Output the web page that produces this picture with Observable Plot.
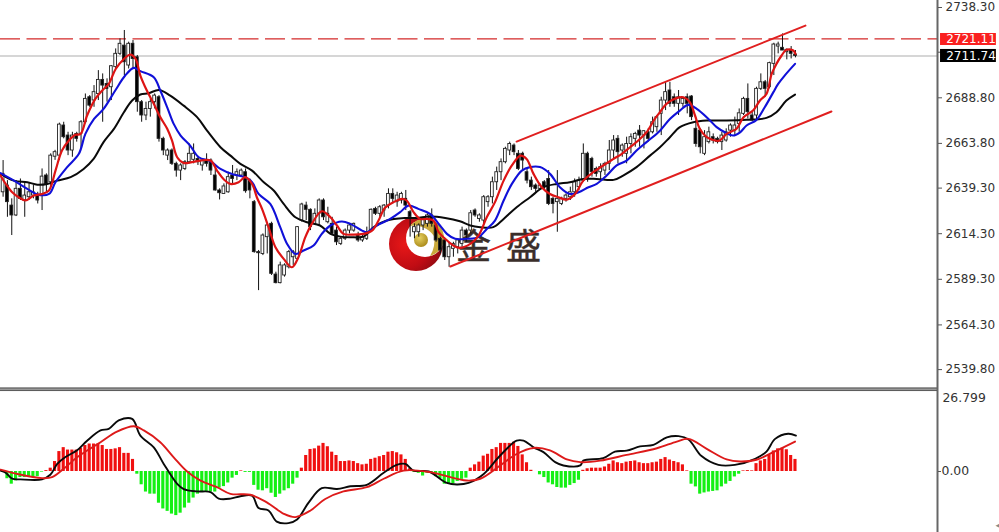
<!DOCTYPE html>
<html><head><meta charset="utf-8">
<script src="https://cdn.jsdelivr.net/npm/d3@7"></script>
<script src="https://cdn.jsdelivr.net/npm/@observablehq/plot@0.6"></script>
<style>
html,body{margin:0;padding:0;background:#fff;overflow:hidden}
#wrap{position:relative;width:999px;height:532px}
#wm{position:absolute;left:0;top:0;z-index:0}
#chart{position:absolute;left:0;top:0;z-index:1}
#chart svg{display:block}
</style></head><body>
<div id="wrap">
<svg id="wm" width="999" height="532">
<defs>
<radialGradient id="rg" cx="0.3" cy="0.5" r="0.8"><stop offset="0" stop-color="#e81818"/><stop offset="0.55" stop-color="#c00c14"/><stop offset="1" stop-color="#7c0a10"/></radialGradient>
<radialGradient id="gg" cx="0.4" cy="0.35" r="0.7"><stop offset="0" stop-color="#e6d060"/><stop offset="1" stop-color="#a88818"/></radialGradient>
</defs>
<circle cx="416" cy="244" r="27" fill="url(#rg)"/>
<circle cx="425" cy="238" r="19" fill="#fff"/>
<path d="M410 226 A19 19 0 1 1 430 256 A28 28 0 0 0 434 236 A24 24 0 0 0 410 226Z" fill="#c9a93a"/>
<circle cx="421" cy="240" r="7" fill="url(#gg)"/>
<text x="456" y="259" font-family="Noto Sans CJK SC" font-size="35" fill="#3a2e2a" stroke="#3a2e2a" stroke-width="0.5">金</text>
<text x="506" y="259" font-family="Noto Sans CJK SC" font-size="35" fill="#3a2e2a" stroke="#3a2e2a" stroke-width="0.5">盛</text>
</svg>
<div id="chart"></div>
</div>
<script>
const highs=[2654.4,2643.4,2633.4,2643.4,2644.3,2642.5,2641.6,2640.7,2637.0,2649.8,
2647.1,2658.1,2660.0,2674.9,2675.4,2669.9,2669.9,2669.9,2676.3,2690.9,2690.0,
2695.5,2703.7,2701.9,2699.2,2706.5,2715.6,2721.1,2725.7,2719.3,2720.2,
2712.0,2687.3,2686.4,2688.2,2690.9,2690.0,2667.2,2660.8,2660.8,2653.5,
2652.6,2654.4,2663.5,2663.5,2656.2,2655.3,2658.1,2655.3,2649.8,2638.9,
2641.6,2648.0,2651.7,2649.8,2649.8,2649.8,2644.3,2632.5,2605.1,2614.2,
2619.7,2620.6,2593.2,2598.7,2597.8,2605.1,2605.1,2618.2,2631.0,2631.6,
2627.9,2627.9,2633.4,2633.4,2628.8,2623.3,2617.9,2612.4,2616.9,
2619.7,2620.1,2615.1,2613.3,2617.9,2627.9,2628.8,2629.7,2630.3,2638.9,
2638.9,2637.0,2637.0,2638.0,2627.0,2619.7,2619.7,2623.3,2625.2,2627.9,
2619.7,2612.4,2611.5,2609.6,2609.6,2611.5,2617.9,2616.9,2627.0,2627.9,
2625.2,2635.2,2635.2,2645.3,2650.8,2655.3,2661.7,2664.5,2663.5,2659.9,
2659.0,2649.8,2645.3,2641.6,2641.6,2643.4,2648.9,2634.3,2648.9,2634.3,
2636.1,2639.8,2644.3,2645.3,2663.5,2659.0,2656.2,2650.8,2652.6,2653.5,
2665.4,2668.1,2668.1,2663.5,2667.2,2669.0,2669.9,2673.6,2670.8,2671.8,
2678.2,2679.1,2689.1,2697.3,2697.3,2690.9,2692.8,2689.1,2690.9,2690.0,
2676.3,2671.8,2670.8,2672.7,2669.0,2667.2,2669.9,2671.8,2674.5,2678.2,
2682.7,2689.1,2696.4,2680.9,2694.6,2701.9,2698.3,2708.3,2718.7,2719.3,
2723.8,2715.6,2716.9,2714.7];
const lows=[2634.3,2623.3,2613.3,2623.7,2632.5,2623.3,2632.5,2633.4,2630.6,2627.0,
2637.0,2639.8,2654.5,2654.4,2666.3,2657.1,2656.2,2664.5,2660.8,2674.5,2683.6,
2683.6,2687.3,2675.4,2686.4,2687.3,2704.6,2712.0,2701.0,2704.6,2704.6,
2680.9,2675.4,2676.3,2678.2,2682.7,2664.5,2657.1,2654.4,2651.7,2645.3,
2643.4,2648.9,2652.6,2652.6,2651.7,2648.6,2650.8,2646.2,2637.6,2632.8,
2635.8,2636.5,2641.6,2643.4,2645.3,2636.5,2633.4,2603.6,2583.1,2602.3,
2603.2,2591.4,2586.8,2586.8,2590.5,2595.0,2596.9,2599.6,2620.6,2621.5,
2616.0,2618.8,2618.8,2621.5,2619.7,2613.8,2607.8,2607.8,2610.6,
2614.2,2615.1,2609.6,2609.6,2610.6,2615.1,2624.3,2623.3,2623.3,2627.9,
2630.6,2628.8,2630.6,2627.0,2612.4,2611.5,2612.4,2616.0,2617.9,2617.9,
2609.6,2603.2,2599.6,2595.9,2601.4,2603.2,2606.9,2609.6,2614.2,2623.3,
2620.6,2619.7,2628.8,2630.6,2638.0,2643.4,2652.6,2657.1,2657.1,2648.9,
2648.9,2641.6,2638.0,2637.0,2638.0,2638.0,2629.7,2625.2,2615.1,2629.7,
2631.6,2632.5,2634.3,2638.0,2642.5,2642.5,2645.3,2645.3,2643.4,2646.2,
2648.9,2655.3,2652.6,2656.2,2652.6,2658.1,2661.7,2661.7,2660.8,2664.5,
2669.0,2669.9,2668.1,2681.8,2683.6,2683.6,2679.1,2683.6,2680.0,2676.3,
2661.7,2658.1,2657.1,2663.5,2663.5,2663.5,2659.9,2664.5,2667.2,2668.1,
2669.9,2679.1,2677.2,2676.0,2676.3,2692.8,2689.1,2693.7,2701.0,2712.9,
2714.7,2709.6,2710.1,2710.7];
const opens=[2637.0,2640.7,2629.7,2624.3,2638.9,2632.5,2634.3,2635.2,2635.2,2635.2,
2646.2,2642.5,2656.5,2657.1,2673.6,2668.1,2659.9,2669.0,2669.0,2675.4,2689.1,
2687.3,2690.9,2698.6,2696.4,2694.6,2705.6,2712.9,2717.4,2706.5,2718.4,
2711.0,2686.4,2679.1,2682.7,2686.4,2689.1,2666.3,2657.1,2659.9,2652.6,
2648.9,2649.8,2653.5,2654.8,2655.3,2651.7,2654.4,2654.4,2646.2,2638.0,
2636.1,2637.0,2646.2,2646.2,2646.2,2648.0,2643.4,2631.6,2604.2,2603.2,
2612.4,2619.7,2591.9,2587.2,2591.4,2595.9,2601.4,2600.5,2621.5,2629.7,
2627.4,2619.7,2625.2,2632.5,2620.6,2619.7,2616.0,2608.7,2611.5,
2616.0,2616.0,2613.3,2610.6,2611.5,2616.0,2627.9,2625.2,2627.0,2629.7,
2636.1,2631.6,2632.5,2633.4,2626.1,2615.1,2615.1,2618.8,2619.7,2624.3,
2618.8,2611.5,2610.6,2601.4,2606.0,2606.9,2608.7,2616.0,2616.0,2627.0,
2622.4,2621.5,2631.6,2634.3,2642.5,2648.0,2653.5,2659.9,2662.6,2658.1,
2658.1,2648.0,2643.4,2640.7,2638.9,2642.5,2644.3,2633.4,2631.6,2630.6,
2633.4,2634.3,2637.0,2639.8,2643.4,2658.1,2655.3,2649.8,2648.0,2648.9,
2652.6,2659.9,2666.3,2659.9,2658.1,2663.5,2666.3,2670.8,2668.1,2669.9,
2669.9,2672.7,2680.0,2687.3,2692.8,2689.1,2685.5,2685.5,2689.1,2689.5,
2671.8,2670.8,2658.1,2664.5,2667.2,2666.3,2664.5,2665.4,2670.8,2670.8,
2674.5,2680.0,2688.2,2679.1,2679.1,2693.7,2697.3,2694.6,2707.4,2716.9,
2716.2,2713.8,2714.7,2712.5];
const closes=[2647.1,2631.6,2624.3,2638.9,2633.4,2635.2,2637.0,2637.0,2632.5,2645.6,
2641.6,2657.1,2659.0,2674.1,2667.2,2659.9,2668.1,2666.3,2675.4,2688.2,2684.5,
2691.9,2698.6,2695.5,2693.7,2706.1,2712.9,2718.4,2708.3,2718.4,2710.1,
2686.4,2679.1,2682.7,2686.4,2690.0,2666.3,2659.9,2659.9,2652.6,2648.9,
2651.7,2653.5,2658.1,2658.1,2653.5,2654.4,2652.6,2648.9,2638.0,2636.5,
2640.2,2645.3,2644.3,2648.0,2648.9,2637.6,2638.0,2604.2,2603.6,2613.3,
2618.8,2592.3,2587.2,2596.9,2596.9,2604.2,2604.2,2617.9,2630.3,2627.4,
2617.9,2625.2,2632.5,2623.3,2625.2,2614.2,2609.6,2611.5,2616.0,
2618.8,2619.7,2610.6,2612.4,2615.1,2627.4,2625.2,2628.8,2629.7,2636.1,
2633.4,2635.2,2636.1,2629.7,2623.3,2617.9,2618.8,2622.4,2624.3,2619.7,
2610.6,2605.1,2601.4,2606.9,2608.7,2610.6,2616.0,2613.3,2625.5,2624.3,
2624.3,2634.3,2634.3,2642.5,2648.0,2653.5,2660.8,2663.5,2659.0,2649.8,
2654.4,2643.4,2639.8,2638.9,2640.7,2639.8,2630.6,2630.6,2633.4,2633.4,
2635.2,2637.0,2642.5,2643.4,2658.1,2644.3,2648.0,2647.1,2650.8,2652.6,
2659.9,2665.4,2659.0,2662.6,2663.5,2667.2,2669.0,2668.1,2670.5,2666.3,
2675.4,2678.2,2687.3,2691.9,2685.5,2685.5,2689.1,2688.2,2685.5,2678.2,
2663.5,2661.7,2667.2,2669.9,2665.4,2664.5,2668.1,2669.9,2673.6,2673.6,
2680.3,2688.2,2680.9,2676.3,2693.7,2697.3,2693.7,2707.8,2718.0,2718.0,
2714.7,2715.1,2712.9,2711.74];
const maFast=[[-0.6,2646.2],[0.6,2641.6],[2.1,2637],[3.6,2634.3],[5.2,2632.5],[7.1,2635.2],[9,2636.1],[10.6,2638],[12.1,2648.9],[13.6,2659.9],[15.2,2665.4],[16.7,2668.5],[17.9,2669],[19.4,2679.1],[21.3,2688.2],[22.9,2692.8],[24.4,2696.4],[26,2704.6],[27.9,2710.1],[29.4,2712.5],[30.6,2710.1],[31.7,2701],[33.2,2692.8],[34.8,2685.5],[36.3,2678.2],[37.9,2671.8],[39,2665.4],[40.2,2656.2],[41.7,2653.1],[43.6,2653.5],[45.6,2654.4],[47.9,2654.4],[49.4,2648.9],[50.9,2644.3],[52.5,2641.6],[54.4,2642.5],[55.9,2645.3],[57.5,2641.6],[58.6,2634.3],[59.8,2627.9],[61.3,2617.9],[62.9,2606.9],[64.8,2600.5],[66.7,2595.9],[68.2,2601.4],[69.8,2612.4],[71.3,2619.7],[73.6,2626.6],[75.6,2623.3],[77.1,2618.8],[78.6,2614.2],[80.9,2613.8],[83.2,2614.2],[85.2,2616],[86.7,2621.5],[88.2,2628.5],[90.2,2631.6],[92.1,2633.4],[93.2,2632.5],[94.8,2626.1],[96.3,2622.4],[97.9,2622.4],[99.4,2621.5],[100.6,2615.1],[102.1,2611.5],[104,2607.8],[105.5,2606.5],[107.9,2608.7],[109.8,2613.3],[111.7,2623.3],[113.6,2631.6],[115.6,2643.4],[117.5,2651.7],[119.5,2657.1],[120.9,2655.3],[122.5,2647.1],[124.4,2639.8],[126.3,2636.1],[128.2,2634.3],[130.2,2633],[132.1,2636.1],[134,2643.4],[136.3,2648],[138.6,2651.7],[141,2655.3],[142.9,2658.1],[144.8,2661.7],[146.7,2665.4],[148.6,2669.9],[150.5,2677.2],[151.7,2680.9],[153.2,2685.5],[155.5,2688.6],[157.1,2689.1],[158.6,2686.4],[159.8,2679.1],[160.9,2671.8],[162.5,2667.2],[164.4,2665.4],[165.5,2665.4],[167.1,2669],[169.4,2671.8],[171,2678.2],[173.2,2681.8],[174.8,2687.3],[176.3,2690.9],[177.5,2701.9],[178.6,2707.4],[179.8,2712],[180.9,2715.1],[182.5,2714.7],[183,2712.9]];
const maMid=[[-0.6,2647.5],[2.5,2643.4],[5.6,2638.9],[7.9,2635.8],[10.6,2636.1],[12.1,2642.5],[14.8,2650.8],[17.5,2658.1],[19,2669],[21,2677.2],[23.2,2682.7],[25.9,2692.8],[28.2,2701],[30.2,2705.2],[31.7,2703.4],[34.8,2700.1],[36.3,2692.8],[37.9,2683.6],[39.4,2674.5],[41,2668.1],[43.2,2662.6],[45.2,2656.2],[47.9,2654],[50.2,2649.8],[53.2,2646.7],[55.9,2645.3],[57.5,2642.5],[59,2636.1],[61.7,2630.6],[64,2617.9],[65.6,2608.7],[67.5,2603.2],[69.4,2605.1],[71.7,2607.8],[73.6,2614.2],[75.6,2618.8],[78.2,2621],[80.2,2619.7],[82.9,2616],[84,2615.1],[86.3,2618.8],[89.4,2622.4],[91.7,2626.1],[93.6,2629.7],[95.9,2627.9],[98.6,2625.2],[100.9,2618.8],[102.5,2614.2],[104.4,2611.5],[107.1,2611.5],[109.8,2612.4],[111.7,2616.9],[113.6,2621.5],[115.6,2632.5],[117.5,2641.6],[119.8,2648.9],[121.7,2650.8],[124,2650.8],[126.3,2647.1],[128.6,2639.8],[130.9,2636.1],[132.9,2637],[135.2,2639.8],[137.1,2641.6],[139.4,2646.2],[141.7,2651.7],[144,2654.4],[146.3,2659.9],[148.6,2664.5],[151.7,2670.8],[154,2677.2],[156.3,2681.8],[158.2,2684.9],[160.2,2682.7],[162.9,2677.2],[164.8,2672.7],[166.7,2669.9],[168.6,2668.1],[170.2,2669.9],[171.7,2673.6],[174,2676.7],[175.9,2683.6],[177.9,2691.9],[179,2696.4],[180.5,2701],[182.9,2707.4]];
const maSlow=[[-0.6,2647.1],[2.5,2643.4],[5.6,2642.5],[7.9,2641.2],[10.2,2641.6],[12.5,2643.4],[15.6,2645.3],[18.6,2649.8],[20.9,2655.3],[23.2,2664.5],[25.6,2671.8],[27.9,2680.9],[29.8,2687.3],[31.7,2690.6],[33.6,2691.3],[36,2693.1],[38.6,2690],[41.7,2684.5],[44.8,2678.2],[47.1,2670.8],[50.2,2661.7],[52.5,2657.1],[54.8,2652.6],[57.5,2648.9],[60.2,2642.5],[62.5,2638],[64.8,2630.6],[67.5,2623.3],[70.2,2620.6],[73.2,2618.8],[75.6,2614.2],[77.9,2612.7],[80.2,2612.4],[83.2,2612.7],[85.6,2617.9],[88.6,2621.5],[92.9,2622.9],[95.5,2622.9],[98.6,2623.7],[102.1,2622.9],[105.5,2621.1],[107.9,2618.8],[110.2,2617.9],[113.2,2617.9],[115.6,2622.4],[118.6,2628.8],[121.7,2634.3],[124.8,2639.8],[127.9,2641.6],[130.9,2642.5],[134,2644.3],[137.1,2644.3],[141,2643.8],[143.2,2646.2],[146.3,2650.8],[149.4,2657.1],[151.7,2661.7],[154,2667.2],[156.3,2672.7],[159.4,2675.4],[162.5,2676.3],[167.1,2676.3],[171.7,2676.7],[176.3,2677.8],[178.6,2680.9],[180.9,2687.3],[182.9,2690.6]];
const channelUpper=[[118.6,2664.8],[185.3,2728.4]];
const channelLower=[[103.3,2596.3],[191.3,2681.3]];
const resistance=2721.11, lastPrice=2711.74;
const priceTicks=[2738.30,2713.80,2688.80,2663.80,2639.30,2614.30,2589.30,2564.30,2539.80];
const hiddenTick=2713.80;
const macdHist=[-0.3,-2.4,-4.2,-3.1,-2,-2,-2,-2,-1.7,-0.2,
0.3,1.1,3.3,6.6,7.9,7.1,7.1,7.1,7.7,8.6,
9.1,9.1,9.1,8.6,7.3,7.3,7.5,7.9,6,6,
4,-0.9,-4.4,-6.8,-7.5,-7.5,-10.5,-12.4,-13.2,-14.1,
-14.6,-13.8,-12.1,-10.5,-8.8,-7.5,-6.8,-6.8,-6.8,-6.8,
-5.5,-5,-3.8,-2.2,-1.3,0.2,-0.3,-0.3,-4.6,-6.2,
-6.4,-5.7,-7.2,-8.6,-7.5,-6.4,-5.7,-4.2,-2.2,1.1,
5.3,7.3,7.5,8.4,9.3,8.2,6.4,5.3,3.3,3.3,
3.5,3.3,2.6,2.2,2.4,4,4.4,4.9,5.3,6.4,
6.6,6.2,5.5,4,0.9,-0.3,-0.6,-1.5,-0.6,-0.6,
-1.7,-2.4,-4.2,-4.2,-4,-3.3,-2.6,-2.2,1.1,2.2,
3.1,5.1,5.7,7.3,7.9,9.3,9.3,9.3,9.7,8.3,
5.5,2.9,0.4,0,-1.1,-2,-3.8,-4.4,-5.3,-5.5,
-5.5,-4.6,-4,-2.9,0.4,0.9,1.1,1.1,1.1,1.5,
2.4,3.5,2.9,2.6,3.1,3.3,3.5,2.9,2.6,2.6,
2.9,3.1,4,4.6,3.8,3.3,2.9,2.2,0.2,-4.2,
-5.1,-7.5,-7.1,-6.8,-6.6,-6.4,-5.1,-4.2,-3.3,-1.8,
-0.9,0.2,0.3,0.2,2.6,3.5,4,5.5,6.8,7.5,
7.7,7.2,5.3,4];
const macdMain=[[-0.6,0.3],[0.6,-0.4],[2.1,-2.4],[4,-2.6],[9,-2.6],[10.9,-1.1],[12.5,2.5],[14.4,4.8],[17.1,7],[19.4,10.2],[22.5,13.6],[24.4,14.1],[26.7,16.9],[29.8,17.4],[31.7,11.9],[34.8,8],[37.1,2.5],[40.2,-4.1],[41.7,-5.8],[44.8,-6.6],[47.9,-6.8],[49.8,-9],[52.5,-9],[54.8,-8.2],[57.5,-8],[59,-12.1],[61.3,-12.9],[63.2,-16.6],[65.9,-17.1],[67.9,-15.9],[70.6,-10.2],[73.6,-5.5],[77.1,-5.8],[80.2,-4.9],[84,-4.4],[87.9,-0.4],[90.9,2.2],[92.9,2.5],[94.8,0.3],[98.3,0],[102.5,-3.8],[104.8,-4.3],[107.5,-3.8],[111,-0.8],[114.8,5.3],[118.6,10.2],[120.2,10.2],[122.5,8],[124.8,6.4],[127.5,3.1],[129.4,2],[133.3,2],[134,3.6],[138.6,4.4],[141.3,6.6],[144,6.9],[147.1,8.3],[150.2,8.8],[153.3,11.3],[156,11.7],[158.3,10.6],[161.3,5.1],[165.2,2.2],[169,2.2],[173.7,4.2],[176.3,6.6],[178.3,10.8],[181.3,12.5],[183.1,11.9]];
const macdSignal=[[-0.6,0.6],[3.2,-0.8],[9,-2.2],[11.3,-1.9],[14,0.9],[17.1,4.7],[22.5,9.7],[26.3,13.2],[30.2,15],[32.5,13.6],[36.3,9.7],[39.4,4.7],[42.5,0],[45.6,-3],[49.4,-5.2],[52.5,-7.4],[57.1,-7.7],[60.9,-10.2],[64.8,-14],[67.5,-15.1],[71,-12.9],[74.4,-9.1],[78.6,-6.6],[84,-5.2],[87.9,-2.4],[92.5,0.3],[98.6,-0.2],[107.1,-3],[110.2,-2.4],[114.8,2],[118.6,5.8],[122.5,7.8],[126.3,7],[130.2,4],[133.3,3.1],[137.9,3.6],[144,5.5],[151,7.7],[155.6,9.9],[158.3,10.8],[162.5,7.5],[167.1,4],[170.2,3.3],[174,3.9],[177.9,6.4],[182.9,9.9]];
const macdTickTop=26.799;

const candles=d3.range(highs.length).map(i=>({i,h:highs[i],l:lows[i],o:opens[i],c:closes[i]}));
const hist=macdHist.map((v,i)=>({i,v}));
const xDomain=[-0.6,215.8];
const tagLeft=216.5, tagRight=229.4;
const font="'DejaVu Sans',sans-serif";
const common={width:999,marginLeft:0,marginRight:62,marginTop:0,marginBottom:0,
  x:{type:"linear",domain:xDomain,axis:null},
  style:{background:"transparent",fontFamily:font,fontSize:"12px",color:"#333",overflow:"visible"}};
const line=(pts,stroke,w)=>Plot.line(pts,{x:d=>d[0],y:d=>d[1],stroke,strokeWidth:w,curve:"catmull-rom"});

const pricePanel=Plot.plot({...common,height:389,
  y:{domain:[2528.89,2742.14],axis:null},
  marks:[
    Plot.ruleY([lastPrice],{x1:xDomain[0],x2:xDomain[1],stroke:"#c8c8c8",strokeWidth:1.5}),
    Plot.ruleY([resistance],{x1:xDomain[0],x2:xDomain[1],stroke:"#d42a2a",strokeWidth:1.2,strokeDasharray:"20,6.5"}),
    Plot.ruleX(candles,{x:"i",y1:"l",y2:"h",stroke:"#111",strokeWidth:1}),
    Plot.rect(candles,{x1:d=>d.i-0.32,x2:d=>d.i+0.32,y1:"o",y2:"c",
      fill:d=>d.c>=d.o?"#fff":"#000",stroke:"#222",strokeWidth:0.9}),
    line(maSlow,"#0a0a0a",2),
    line(maMid,"#1010d8",2.1),
    line(maFast,"#dd1414",2.2),
    line(channelUpper,"#e01f1f",2),
    line(channelLower,"#e01f1f",2),
    Plot.ruleY([2529.44],{x1:xDomain[0],x2:xDomain[1],stroke:"#777",strokeWidth:2.4}),
    Plot.ruleX([xDomain[1]],{stroke:"#666",strokeWidth:2}),
    Plot.axisY(priceTicks,{anchor:"right",label:null,tickSize:4,tickPadding:4,stroke:"#555",fill:"#333",fontSize:12,
      tickFormat:d=>d===hiddenTick?"":d.toFixed(2)}),
    Plot.rect([0],{x1:tagLeft,x2:tagRight,y1:2724.05,y2:2717.47,fill:"#fa2020"}),
    Plot.rect([0],{x1:tagLeft,x2:tagRight,y1:2715.3,y2:2708.15,fill:"#000"}),
    Plot.text([resistance],{x:tagLeft+1.3,y:d=>d,text:d=>d.toFixed(2),fill:"#fff",textAnchor:"start",fontSize:12,dy:0.5}),
    Plot.text([lastPrice],{x:tagLeft+1.3,y:d=>d,text:d=>d.toFixed(2),fill:"#fff",textAnchor:"start",fontSize:12})
  ]});

const macdPanel=Plot.plot({...common,height:143,
  y:{domain:[-20.2,27.15],axis:null},
  marks:[
    Plot.rect(hist,{x1:d=>d.i-0.36,x2:d=>d.i+0.36,y1:0,y2:"v",fill:d=>d.v>=0?"#f01010":"#14f014"}),
    line(macdMain,"#0a0a0a",1.9),
    line(macdSignal,"#dd1a1a",1.9),
    Plot.ruleX([xDomain[1]],{stroke:"#666",strokeWidth:2}),
    Plot.axisY([0],{anchor:"right",label:null,tickSize:3,tickPadding:1,stroke:"#555",fill:"#333",fontSize:12.4,tickFormat:()=>"0.00"}),
    Plot.tickY([macdTickTop],{x1:xDomain[1],x2:xDomain[1]+0.5,stroke:"#555"}),
    Plot.text([macdTickTop],{x:xDomain[1]+1.15,y:d=>d,text:d=>d.toFixed(3),fill:"#333",textAnchor:"start",fontSize:12.4,dy:7}),
    Plot.text([0],{x:xDomain[1]+13.9,y:-17.8,text:()=>"◂",fill:"#888",fontSize:9})
  ]});
document.getElementById("chart").append(pricePanel,macdPanel);
</script></body></html>
